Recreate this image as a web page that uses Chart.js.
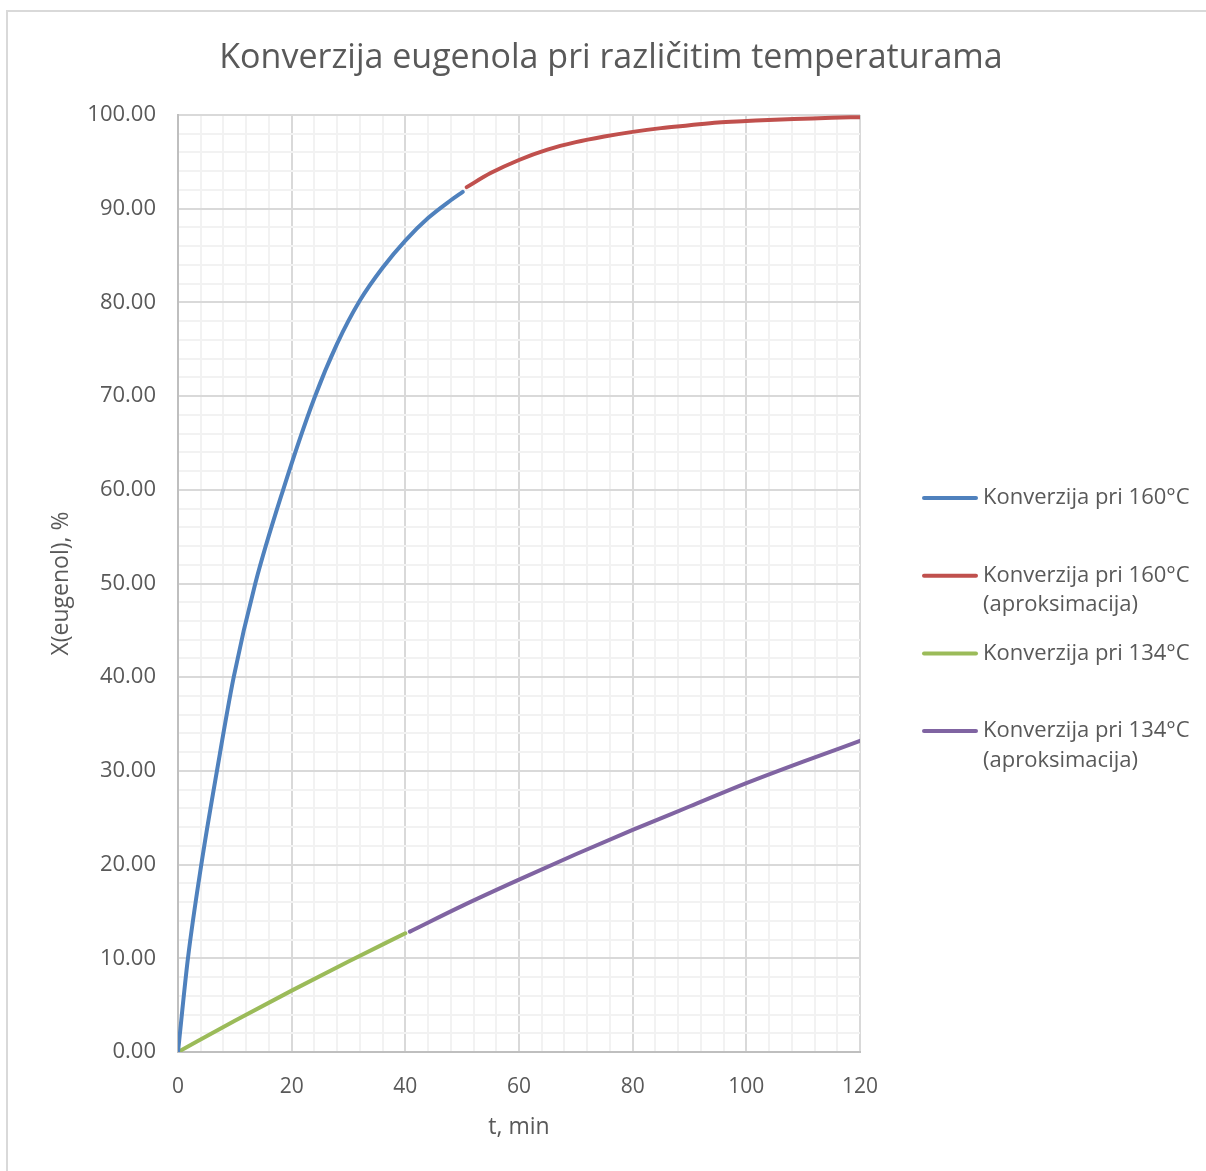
<!DOCTYPE html>
<html lang="hr">
<head>
  <meta charset="UTF-8" />
  <title>Konverzija eugenola pri različitim temperaturama</title>
  <style>
    html, body {
      margin: 0; padding: 0;
      width: 1206px; height: 1171px;
      overflow: hidden;
      background: #fff;
    }
    /* tanki okvir grafikona */
    #frame {
      position: absolute;
      left: 6px; top: 10px;
      width: 1400px; height: 1400px;
      border-left: 2px solid #d9d9d9;
      border-top: 2px solid #d9d9d9;
    }
    #wrap {
      position: absolute;
      left: 0; top: 0;
      width: 1206px; height: 1171px;
    }
  </style>
</head>
<body>
  <div id="frame"></div>
  <div id="wrap"><canvas id="chart" width="1206" height="1171"></canvas></div>

  <script src="https://cdn.jsdelivr.net/npm/chart.js"></script>
  <script>
    // vrijeme (min) i konverzija (%)
    const t160 = [0, 1.75, 4.1, 6.85, 9.8, 13.6, 18.5, 24, 28, 32, 36, 40, 44, 48, 50.1];
    const x160 = [0, 10, 20, 30, 40, 50, 60, 69.8, 75.6, 80.2, 83.7, 86.6, 89.0, 90.9, 91.8];

    const t160a = [50.8, 55, 60, 65, 70, 75, 80, 85, 90, 95, 100, 105, 110, 115, 120];
    const x160a = [92.3, 93.8, 95.2, 96.3, 97.1, 97.7, 98.2, 98.6, 98.9, 99.2, 99.35, 99.5, 99.6, 99.7, 99.77];

    const t134 = [0, 10, 20, 30, 40];
    const x134 = [0, 3.33, 6.55, 9.66, 12.67];

    const t134a = [40.8, 50, 60, 70, 80, 90, 100, 110, 120];
    const x134a = [12.85, 15.6, 18.4, 21.1, 23.7, 26.2, 28.7, 31.0, 33.2];

    const seriesNames = [
      ['Konverzija pri 160°C'],
      ['Konverzija pri 160°C', '(aproksimacija)'],
      ['Konverzija pri 134°C'],
      ['Konverzija pri 134°C', '(aproksimacija)']
    ];
    const seriesColors = ['#4F81BD', '#C0504D', '#9BBB59', '#8064A2'];

    const chartTitle = 'Konverzija eugenola pri različitim temperaturama';
    const xTitle = 't, min';
    const yTitle = 'X(eugenol), %';

    const FONT = "'Open Sans', sans-serif";
    const TXT = '#595959';

    function toPoints(xs, ys) {
      return xs.map((x, i) => ({ x: x, y: ys[i] }));
    }

    const datasets = [
      toPoints(t160, x160),
      toPoints(t160a, x160a),
      toPoints(t134, x134),
      toPoints(t134a, x134a)
    ].map((pts, i) => ({
      label: seriesNames[i].join(' '),
      data: pts,
      borderColor: seriesColors[i],
      backgroundColor: seriesColors[i],
      borderWidth: 4,
      borderCapStyle: 'round',
      pointRadius: 0,
      showLine: true,
      fill: false,
      cubicInterpolationMode: 'monotone'
    }));

    // naslov i legenda crtaju se ručno
    const decorations = {
      id: 'decorations',
      afterDraw(chart) {
        const c = chart.ctx;
        c.save();
        c.fillStyle = TXT;
        c.font = '34px ' + FONT;
        c.textAlign = 'center';
        c.textBaseline = 'middle';
        c.fillText(chartTitle, 611, 58);

        c.font = '22px ' + FONT;
        c.textAlign = 'left';
        let y = 498;
        seriesNames.forEach((lines, i) => {
          c.strokeStyle = seriesColors[i];
          c.lineWidth = 4;
          c.lineCap = 'round';
          c.beginPath();
          c.moveTo(924, y);
          c.lineTo(976, y);
          c.stroke();
          lines.forEach((ln, k) => c.fillText(ln, 983, y + k * 29.5));
          y += 77.7;
        });
        c.restore();
      }
    };

    const isMajor = (v, step) => Math.abs(v / step - Math.round(v / step)) < 1e-6;

    new Chart(document.getElementById('chart'), {
      type: 'scatter',
      data: { datasets: datasets },
      plugins: [decorations],
      options: {
        responsive: false,
        animation: false,
        layout: { padding: { left: 44, right: 346, top: 115, bottom: 26 } },
        plugins: {
          legend: { display: false },
          title: { display: false },
          tooltip: { enabled: false }
        },
        scales: {
          x: {
            type: 'linear',
            min: 0, max: 120,
            afterFit: s => { s.height = 93; },
            ticks: {
              stepSize: 4,
              autoSkip: false,
              maxRotation: 0,
              padding: 22,
              color: TXT,
              font: { family: FONT, size: 21 },
              callback: v => isMajor(v, 20) ? Math.round(v) : ''
            },
            grid: {
              drawTicks: false,
              lineWidth: 2,
              color: c => isMajor(c.tick.value, 20) ? '#d9d9d9' : '#f2f2f2'
            },
            border: { color: '#bfbfbf', width: 2 },
            title: {
              display: true,
              text: xTitle,
              color: TXT,
              font: { family: FONT, size: 23 }
            }
          },
          y: {
            min: 0, max: 100,
            afterFit: s => { s.width = 134; },
            ticks: {
              stepSize: 2,
              autoSkip: false,
              padding: 22,
              color: TXT,
              font: { family: FONT, size: 22 },
              callback: v => isMajor(v, 10) ? v.toFixed(2) : ''
            },
            grid: {
              drawTicks: false,
              lineWidth: 2,
              color: c => isMajor(c.tick.value, 10) ? '#d9d9d9' : '#f2f2f2'
            },
            border: { color: '#bfbfbf', width: 2 },
            title: {
              display: true,
              text: yTitle,
              color: TXT,
              font: { family: FONT, size: 23 }
            }
          }
        }
      }
    });
  </script>
</body>
</html>
